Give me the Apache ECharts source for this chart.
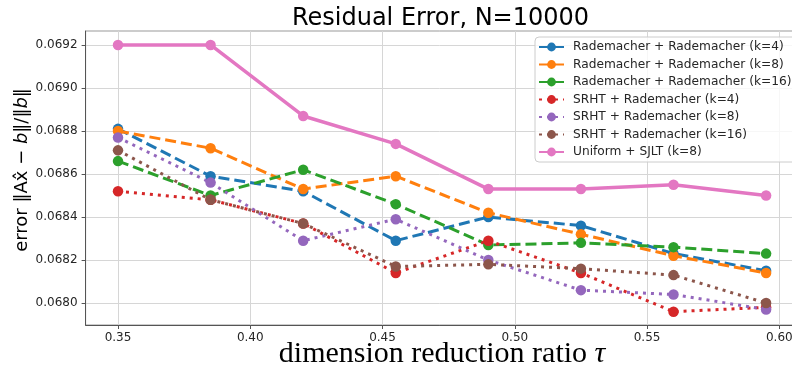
<!DOCTYPE html>
<html>
<head>
<meta charset="utf-8">
<script src="https://cdn.jsdelivr.net/npm/echarts@6/dist/echarts.min.js"></script>
<style>
  html, body { margin: 0; padding: 0; background: #fff; }
  #chart { width: 792px; height: 368px; }
</style>
</head>
<body>
<div id="chart"></div>
<script>
const tau = [0.35, 0.385, 0.42, 0.455, 0.49, 0.525, 0.56, 0.595];

const rademacherK4 = [0.06881, 0.06859, 0.06852, 0.06829, 0.06840, 0.06836, 0.06823, 0.06815];
const rademacherK8 = [0.06880, 0.06872, 0.06853, 0.06859, 0.06842, 0.06832, 0.06822, 0.06814];
const rademacherK16 = [0.06866, 0.06850, 0.06862, 0.06846, 0.06827, 0.06828, 0.06826, 0.06823];
const srhtK4 = [0.06852, 0.06848, 0.06837, 0.06814, 0.06829, 0.06814, 0.06796, 0.06798];
const srhtK8 = [0.06877, 0.06856, 0.06829, 0.06839, 0.06820, 0.06806, 0.06804, 0.06797];
const srhtK16 = [0.06871, 0.06848, 0.06837, 0.06817, 0.06818, 0.06816, 0.06813, 0.06800];
const uniformSjlt = [0.06920, 0.06920, 0.06887, 0.06874, 0.06853, 0.06853, 0.06855, 0.06850];

const xTicks = [0.35, 0.40, 0.45, 0.50, 0.55, 0.60];
const yTicks = [0.0680, 0.0682, 0.0684, 0.0686, 0.0688, 0.0690, 0.0692];

const seriesDefs = [
  { name: "Rademacher + Rademacher (k=4)", data: rademacherK4, color: "#1f77b4", dash: [11, 5] },
  { name: "Rademacher + Rademacher (k=8)", data: rademacherK8, color: "#ff7f0e", dash: [11, 5] },
  { name: "Rademacher + Rademacher (k=16)", data: rademacherK16, color: "#2ca02c", dash: [11, 5] },
  { name: "SRHT + Rademacher (k=4)", data: srhtK4, color: "#d62728", dash: [3, 5] },
  { name: "SRHT + Rademacher (k=8)", data: srhtK8, color: "#9467bd", dash: [3, 5] },
  { name: "SRHT + Rademacher (k=16)", data: srhtK16, color: "#8c564b", dash: [3, 5] },
  { name: "Uniform + SJLT (k=8)", data: uniformSjlt, color: "#e377c2", dash: "solid", width: 3.5 },
];

const spine = "#555";
const tickText = "#262626";

const chart = echarts.init(document.getElementById("chart"), null, { renderer: "canvas" });
chart.setOption({
  animation: false,
  backgroundColor: "#fff",
  title: {
    text: "Residual Error, N=10000",
    left: 435.5,
    textAlign: "center",
    top: 2,
    textStyle: { fontFamily: "DejaVu Sans", fontSize: 24, fontWeight: "normal", color: "#000" },
  },
  grid: {
    left: 85.6, right: -6.5, top: 31, bottom: 43,
    containLabel: false, outerBoundsMode: "none",
    show: true, borderColor: "#999", borderWidth: 1,
  },
  legend: {
    orient: "vertical",
    left: 535,
    top: 37,
    padding: [4, 6, 4, 3],
    itemWidth: 25,
    itemHeight: 11,
    itemGap: 5.5,
    backgroundColor: "rgba(255,255,255,0.8)",
    borderColor: "#ccc",
    borderWidth: 1,
    borderRadius: 4,
    textStyle: { fontFamily: "DejaVu Sans", fontSize: 12.2, color: tickText, padding: [0, 0, 0, 4] },
  },
  xAxis: {
    type: "value",
    min: 0.33775,
    max: 0.60725,
    name: "dimension reduction ratio {i|τ}",
    nameLocation: "middle",
    nameGap: 14,
    nameMoveOverlap: false,
    nameTextStyle: {
      fontFamily: "Liberation Serif",
      fontSize: 30,
      color: "#000",
      rich: { i: { fontFamily: "Liberation Serif", fontStyle: "italic", fontSize: 30, color: "#000" } },
    },
    axisLine: { show: true, lineStyle: { color: spine, width: 1 } },
    axisTick: { show: true, length: 4, customValues: xTicks, lineStyle: { color: spine } },
    axisLabel: {
      customValues: xTicks,
      formatter: (v) => v.toFixed(2),
      margin: 7,
      fontFamily: "DejaVu Sans",
      fontSize: 12,
      color: tickText,
    },
    splitLine: { show: true, lineStyle: { color: "#d6d6d6", width: 1 } },
  },
  yAxis: {
    type: "value",
    min: 0.067898,
    max: 0.069265,
    name: "error ‖Ax̂ − {i|b}‖/‖{i|b}‖",
    nameLocation: "middle",
    nameGap: 54,
    nameMoveOverlap: false,
    nameRotate: 90,
    nameTextStyle: {
      fontFamily: "DejaVu Sans",
      fontSize: 18,
      color: "#000",
      padding: [0, 0, 0, 16],
      rich: { i: { fontFamily: "DejaVu Sans", fontStyle: "italic", fontSize: 18, color: "#000" } },
    },
    axisLine: { show: true, lineStyle: { color: spine, width: 1 } },
    axisTick: { show: true, length: 4, customValues: yTicks, lineStyle: { color: spine } },
    axisLabel: {
      customValues: yTicks,
      formatter: (v) => v.toFixed(4),
      margin: 8,
      fontFamily: "DejaVu Sans",
      fontSize: 12,
      color: tickText,
    },
    splitLine: { show: true, lineStyle: { color: "#d6d6d6", width: 1 } },
  },
  series: seriesDefs.map((s) => ({
    name: s.name,
    type: "line",
    data: tau.map((x, i) => [x, s.data[i]]),
    symbol: "circle",
    symbolSize: 10.5,
    showSymbol: true,
    itemStyle: { color: s.color },
    lineStyle: { color: s.color, width: s.width || 3, type: s.dash, cap: "butt" },
    emphasis: { disabled: true },
  })),
});
</script>
</body>
</html>
